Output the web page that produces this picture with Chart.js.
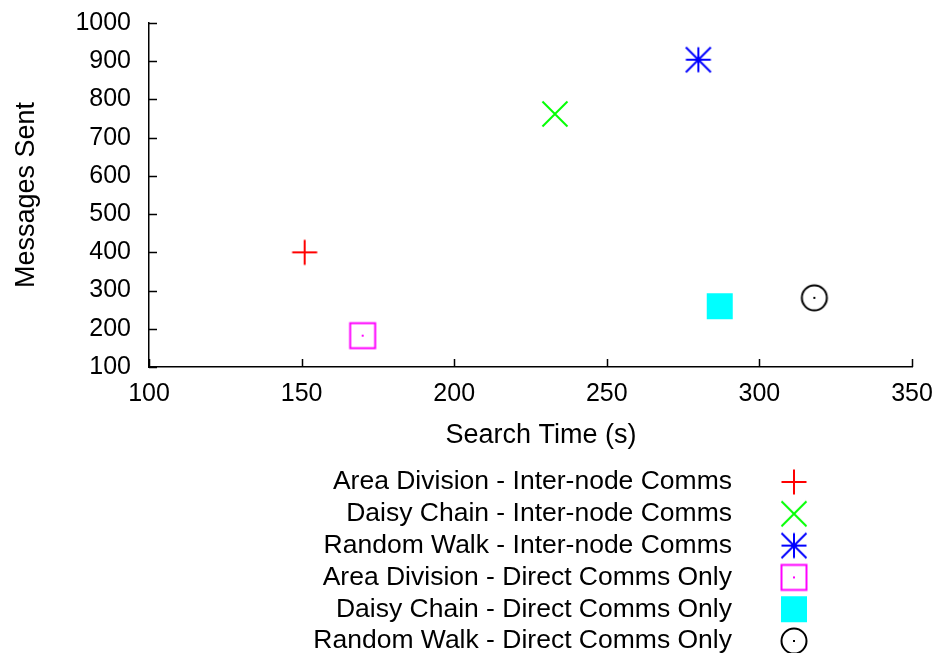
<!DOCTYPE html>
<html>
<head>
<meta charset="utf-8">
<script src="https://cdn.jsdelivr.net/npm/chart.js@4.4.1/dist/chart.umd.min.js"></script>
<style>
  html, body { margin: 0; padding: 0; background: #fff; }
  #wrap { width: 939px; height: 653px; }
</style>
</head>
<body>
<div id="wrap"><canvas id="scatterChart" width="939" height="653"></canvas></div>
<script>
// Dados
const series = [
    'Area Division - Inter-node Comms',
    'Daisy Chain - Inter-node Comms',
    'Random Walk - Inter-node Comms',
    'Area Division - Direct Comms Only',
    'Daisy Chain - Direct Comms Only',
    'Random Walk - Direct Comms Only'
];
const searchTime = [151, 233, 280, 170, 287, 318];
const messagesSent = [400, 762, 904, 182, 259, 281];
const xTicks = [100, 150, 200, 250, 300, 350];
const yTicks = [100, 200, 300, 400, 500, 600, 700, 800, 900, 1000];

const cores = ['#ff0000', '#00ff00', '#0000ff', '#ff00ff', '#00ffff', '#000000'];
const FONT = "'Liberation Sans', Arial, Helvetica, sans-serif";

// marcadores estilo gnuplot desenhados em canvas pequenos
function marcador(tipo, cor) {
    const s = 30;
    const c = document.createElement('canvas');
    c.width = s; c.height = s;
    const g = c.getContext('2d');
    const m = s / 2, r = 12.5;
    g.strokeStyle = cor;
    g.fillStyle = cor;
    g.lineWidth = 2;
    g.beginPath();
    if (tipo === 'plus') {
        g.moveTo(m - r, m); g.lineTo(m + r, m);
        g.moveTo(m, m - r); g.lineTo(m, m + r);
        g.stroke();
    } else if (tipo === 'x') {
        g.moveTo(m - r, m - r); g.lineTo(m + r, m + r);
        g.moveTo(m + r, m - r); g.lineTo(m - r, m + r);
        g.stroke();
    } else if (tipo === 'star') {
        g.moveTo(m - r, m); g.lineTo(m + r, m);
        g.moveTo(m, m - r); g.lineTo(m, m + r);
        g.moveTo(m - r, m - r); g.lineTo(m + r, m + r);
        g.moveTo(m + r, m - r); g.lineTo(m - r, m + r);
        g.stroke();
    } else if (tipo === 'box') {
        g.rect(m - r, m - r, 2 * r, 2 * r);
        g.stroke();
        g.fillRect(m - 1, m - 1, 2, 2);
    } else if (tipo === 'fbox') {
        g.fillRect(m - 13, m - 13, 26, 26);
    } else if (tipo === 'circle') {
        g.arc(m, m, r, 0, Math.PI * 2);
        g.stroke();
        g.fillRect(m - 1, m - 1, 2, 2);
    }
    return c;
}

const tipos = ['plus', 'x', 'star', 'box', 'fbox', 'circle'];
const imagens = tipos.map((t, i) => marcador(t, cores[i]));

const datasets = series.map((nome, i) => ({
    label: nome,
    data: [{ x: searchTime[i], y: messagesSent[i] }],
    pointStyle: imagens[i],
    pointRadius: 15,
    pointHoverRadius: 15,
    borderColor: cores[i],
    backgroundColor: cores[i]
}));

// ticks para dentro, título do eixo x e legenda à maneira do gnuplot
const gnuplotStyle = {
    id: 'gnuplotStyle',
    afterDraw(chart) {
        const ctx = chart.ctx;
        const xs = chart.scales.x, ys = chart.scales.y;
        const area = chart.chartArea;
        ctx.save();
        ctx.strokeStyle = '#000';
        ctx.lineWidth = 1.5;
        ctx.beginPath();
        xTicks.forEach(v => {
            const px = Math.round(xs.getPixelForValue(v)) + 0.5;
            ctx.moveTo(px, area.bottom);
            ctx.lineTo(px, area.bottom - 8);
        });
        yTicks.forEach(v => {
            const py = Math.round(ys.getPixelForValue(v)) + 0.5;
            ctx.moveTo(area.left, py);
            ctx.lineTo(area.left + 8, py);
        });
        ctx.stroke();

        ctx.fillStyle = '#000';
        ctx.textBaseline = 'middle';
        ctx.textAlign = 'center';
        ctx.font = '27px ' + FONT;
        ctx.fillText('Search Time (s)', 541, 436);

        // legenda
        ctx.font = '26.5px ' + FONT;
        ctx.textAlign = 'right';
        series.forEach((nome, i) => {
            const y = 482 + i * 31.8;
            ctx.fillText(nome, 732, y);
            const img = imagens[i];
            ctx.drawImage(img, 794 - img.width / 2, y - img.height / 2);
        });
        ctx.restore();
    }
};

const ctx = document.getElementById('scatterChart').getContext('2d');
const scatterChart = new Chart(ctx, {
    type: 'scatter',
    data: { datasets: datasets },
    options: {
        responsive: false,
        animation: false,
        events: [],
        layout: { padding: { left: 0, right: 27, top: 23, bottom: 193 } },
        plugins: {
            legend: { display: false },
            tooltip: { enabled: false }
        },
        scales: {
            x: {
                type: 'linear',
                min: 100,
                max: 350,
                afterFit: s => { s.height = 93; s.paddingLeft = 0; s.paddingRight = 0; },
                afterBuildTicks: s => { s.ticks = xTicks.map(v => ({ value: v })); },
                grid: { display: false, drawTicks: false },
                border: { display: true, color: '#000', width: 1.5 },
                ticks: {
                    color: '#000',
                    padding: 12,
                    maxRotation: 0,
                    callback: v => String(v),
                    font: { family: FONT, size: 25 }
                }
            },
            y: {
                type: 'linear',
                min: 100,
                max: 1000,
                afterFit: s => { s.width = 149; s.paddingTop = 0; s.paddingBottom = 0; },
                afterBuildTicks: s => { s.ticks = yTicks.map(v => ({ value: v })); },
                grid: { display: false, drawTicks: false },
                border: { display: true, color: '#000', width: 1.5 },
                ticks: {
                    color: '#000',
                    padding: 18,
                    callback: v => String(v),
                    font: { family: FONT, size: 25 }
                },
                title: {
                    display: true,
                    text: 'Messages Sent',
                    color: '#000',
                    padding: { top: 10, bottom: 0 },
                    font: { family: FONT, size: 27 }
                }
            }
        }
    },
    plugins: [gnuplotStyle]
});
</script>
</body>
</html>
